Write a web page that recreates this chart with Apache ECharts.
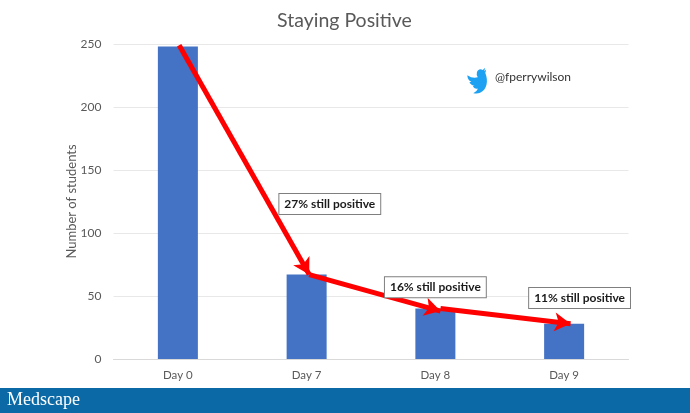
<!DOCTYPE html>
<html>
<head>
<meta charset="utf-8">
<style>html,body{margin:0;padding:0;background:#fff}#c{width:690px;height:413px}</style>
<script src="https://cdn.jsdelivr.net/npm/echarts@6/dist/echarts.min.js"></script>
</head>
<body>
<div id="c"></div>
<script>
const categories = ['Day 0', 'Day 7', 'Day 8', 'Day 9'];
const students = [248, 67, 40, 28];
const yTicks = [0, 50, 100, 150, 200, 250];
const arrowSegments = [
  [[0.01, 249], [1.02, 67]],
  [[1.02, 67], [2.04, 38]],
  [[2.04, 40], [3.05, 28]]
];
const notes = [
  { text: '27% still positive', at: [1.18, 123] },
  { text: '16% still positive', at: [2.0, 57] },
  { text: '11% still positive', at: [3.12, 48.5] }
];
const birdAt = [2.343, 220.5];
const titleText = 'Staying Positive';
const yName = 'Number of students';
const handle = '@fperrywilson';
const brand = 'Medscape';
const birdPath = 'M23.953 4.57 a10 10 0 0 1 -2.825 .775 a4.958 4.958 0 0 0 2.163 -2.723 c-.951 .555 -2.005 .959 -3.127 1.184 a4.92 4.92 0 0 0 -8.384 4.482 C7.69 8.095 4.067 6.13 1.64 3.162 a4.822 4.822 0 0 0 -.666 2.475 c0 1.71 .87 3.213 2.188 4.096 a4.904 4.904 0 0 1 -2.228 -.616 v.06 a4.923 4.923 0 0 0 3.946 4.827 a4.996 4.996 0 0 1 -2.212 .085 a4.936 4.936 0 0 0 4.604 3.417 a9.867 9.867 0 0 1 -6.102 2.105 c-.39 0 -.779 -.023 -1.17 -.067 a13.995 13.995 0 0 0 7.557 2.209 c9.053 0 13.998 -7.496 13.998 -13.985 c0 -.21 0 -.42 -.015 -.63 A9.935 9.935 0 0 0 24 4.59 z';

const font = 'Lato, "Open Sans", sans-serif';
const chart = echarts.init(document.getElementById('c'), null, { renderer: 'canvas' });
chart.setOption({
  animation: false,
  backgroundColor: '#ffffff',
  title: {
    text: titleText, left: 339.5, top: 6, textAlign: 'center',
    textStyle: { fontFamily: font, fontSize: 19.5, fontWeight: 'normal', color: '#595959' }
  },
  grid: { left: 113.5, right: 61.5, top: 44, bottom: 54 },
  xAxis: [
    {
      type: 'category', data: categories,
      axisTick: { show: false },
      axisLine: { lineStyle: { color: '#d9d9d9', width: 1 } },
      axisLabel: { fontFamily: font, fontSize: 11.5, color: '#595959', margin: 10 }
    },
    { type: 'value', min: -0.5, max: 3.5, show: false }
  ],
  yAxis: {
    type: 'value', min: 0, max: 250, interval: 50,
    name: yName, nameLocation: 'middle', nameGap: 35, nameMoveOverlap: false,
    nameTextStyle: { fontFamily: font, fontSize: 13, color: '#595959' },
    axisLine: { show: false }, axisTick: { show: false },
    axisLabel: { fontFamily: font, fontSize: 12, color: '#595959', margin: 12,
      formatter: v => yTicks.includes(v) ? String(v) : '' },
    splitLine: { lineStyle: { color: '#e8e8e8', width: 1 } }
  },
  series: [
    {
      type: 'bar', data: students, barWidth: 40, silent: true,
      itemStyle: { color: '#4472c4' }
    },
    {
      type: 'scatter', xAxisIndex: 1, data: [birdAt], silent: true,
      symbol: 'path://' + birdPath, symbolSize: [21, 22], symbolRotate: 22,
      itemStyle: { color: '#1da1f2', opacity: 1 },
      markLine: {
        silent: true, animation: false, symbol: ['none', 'arrow'], symbolSize: [14, 16],
        label: { show: false },
        lineStyle: { color: '#ff0000', width: 5, type: 'solid', opacity: 1 },
        emphasis: { disabled: true },
        data: arrowSegments.map(s => [{ coord: s[0] }, { coord: s[1] }])
      },
      markPoint: {
        silent: true, animation: false, symbol: 'rect', symbolSize: 0,
        data: notes.map(n => ({
          coord: n.at, value: n.text,
          label: {
            show: true, position: 'inside', formatter: n.text,
            fontFamily: font, fontSize: 12, fontWeight: 'bold', color: '#1a1a1a',
            backgroundColor: '#ffffff', borderColor: '#7f7f7f', borderWidth: 1,
            padding: [4, 5, 4, 5]
          }
        }))
      }
    }
  ],
  graphic: [
    { type: 'rect', left: 0, top: 388, shape: { width: 690, height: 25 }, style: { fill: '#0b69a6' } },
    { type: 'text', left: 7, top: 391, style: { text: brand, fill: '#ffffff', font: '18px "Liberation Serif", serif' } },
    { type: 'text', left: 495, top: 71, style: { text: handle, fill: '#333333', font: '12px ' + font } }
  ]
});
</script>
</body>
</html>
